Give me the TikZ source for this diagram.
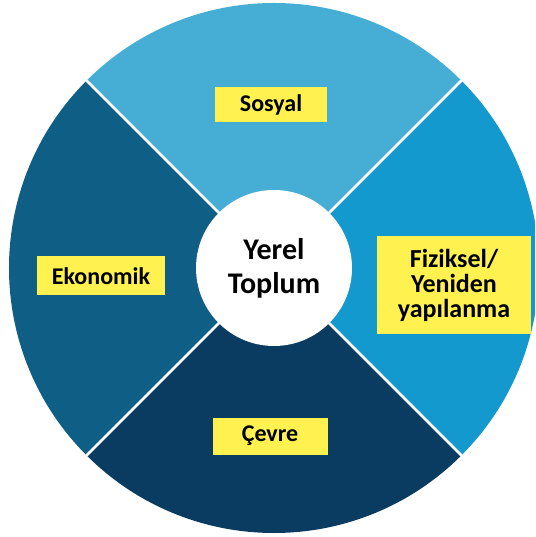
\documentclass[tikz,border=0pt]{standalone}
\usepackage{fontspec}
\setmainfont{Carlito}
\definecolor{sosyalblue}{RGB}{70,174,213}
\definecolor{fizikblue}{RGB}{20,153,207}
\definecolor{cevreblue}{RGB}{10,59,96}
\definecolor{ekoblue}{RGB}{14,94,134}
\definecolor{labelyellow}{RGB}{255,242,80}
\begin{document}
\begin{tikzpicture}[x=1pt,y=1pt,
  label box/.style={fill=labelyellow,font=\bfseries\fontsize{24}{25}\selectfont,align=center,inner sep=0pt},
  slice/.style={white,line width=2.5pt}]
\clip (-274,-269) rectangle (261,268);
% the four coloured quarters
\fill[sosyalblue] (0,0) -- (45:265) arc (45:135:265) -- cycle;
\fill[ekoblue]    (0,0) -- (135:265) arc (135:225:265) -- cycle;
\fill[cevreblue]  (0,0) -- (225:265) arc (225:315:265) -- cycle;
\fill[fizikblue]  (0,0) -- (315:265) arc (315:405:265) -- cycle;
% white cuts between them
\foreach \a in {45,135,225,315}
  \draw[slice] (0,0) -- (\a:266);
\node[circle,fill=white,minimum size=156pt,inner sep=0pt,align=center,
      font=\bfseries\fontsize{30}{34}\selectfont] (yerel) at (0,0) {Yerel\\Toplum};
\node[label box,minimum width=112pt,minimum height=35pt] (sosyal) at (-3,163) {Sosyal};
\node[label box,minimum width=128pt,minimum height=39pt] (ekonomik) at (-173,-8) {Ekonomik};
\node[label box,minimum width=115pt,minimum height=37pt] (cevre) at (-4,-168) {Çevre};
\node[label box,minimum width=154pt,minimum height=98pt,
      font=\bfseries\fontsize{26}{25}\selectfont] (fiziksel) at (180,-17) {Fiziksel/\\Yeniden\\yapılanma};
\end{tikzpicture}
\end{document}
